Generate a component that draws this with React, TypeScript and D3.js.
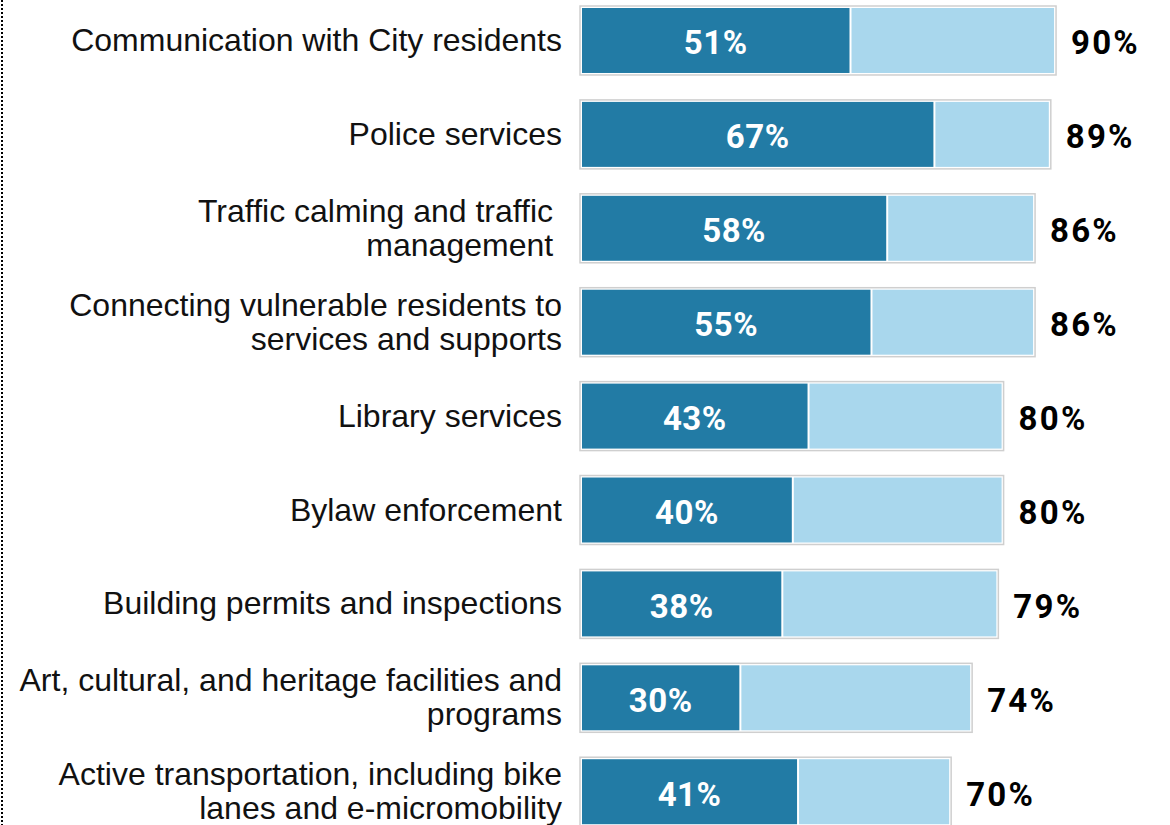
import React from "react";
import * as d3 from "d3";

const categories: string[][] = [
  ["Communication with City residents"],
  ["Police services"],
  ["Traffic calming and traffic ", "management "],
  ["Connecting vulnerable residents to", "services and supports"],
  ["Library services"],
  ["Bylaw enforcement"],
  ["Building permits and inspections"],
  ["Art, cultural, and heritage facilities and", "programs"],
  ["Active transportation, including bike", "lanes and e-micromobility"],
];
const strongValues = [51, 67, 58, 55, 43, 40, 38, 30, 41];
const totalValues = [90, 89, 86, 86, 80, 80, 79, 74, 70];

const W = 1170;
const H = 825;
const DARK = "#227ba5";
const LIGHT = "#a9d7ed";

export default function App() {
  const x = d3.scaleLinear().domain([0, 100]).range([582, 1106.5]);
  const y = d3
    .scaleBand<number>()
    .domain(d3.range(categories.length))
    .range([8, 824.2])
    .paddingInner(0.308)
    .paddingOuter(0);
  const bh = y.bandwidth();
  const valueFont = "Roboto, 'DejaVu Sans', sans-serif";
  const labelFont = "'Liberation Sans', Arial, sans-serif";
  return (
    <svg
      width={W}
      height={H}
      style={{ position: "absolute", left: 0, top: 0, background: "#fff" }}
    >
      <line x1={2} x2={2} y1={0} y2={H} stroke="#000" strokeWidth={2} strokeDasharray="2,2" />
      {categories.map((lines, i) => {
        const y0 = y(i)!;
        const cy = y0 + bh / 2;
        const s = strongValues[i];
        const t = totalValues[i];
        const lh = 34;
        return (
          <g key={i}>
            <rect
              x={x(0) - 2}
              y={y0 - 2}
              width={x(t) - x(0) + 4}
              height={bh + 4}
              fill="#fff"
              stroke="#cfcfcf"
              strokeWidth={1.5}
            />
            <rect x={x(0)} y={y0} width={x(s) - x(0)} height={bh} fill={DARK} />
            <rect x={x(s) + 2} y={y0} width={x(t) - x(s) - 2} height={bh} fill={LIGHT} />
            <text
              x={(x(0) + x(s)) / 2}
              y={cy}
              dy="0.42em"
              textAnchor="middle"
              fill="#fff"
              fontFamily={valueFont}
              fontWeight={700}
              fontSize={33}
              letterSpacing={0.5}
            >
              {s}%
            </text>
            <text
              x={x(t) + 17}
              y={cy}
              dy="0.42em"
              fill="#000"
              fontFamily={valueFont}
              fontWeight={700}
              fontSize={33}
              letterSpacing={2.2}
            >
              {t}%
            </text>
            {lines.map((ln, j) => (
              <text
                key={j}
                x={562}
                y={cy - 1 + (j - (lines.length - 1) / 2) * lh}
                dy="0.36em"
                textAnchor="end"
                fill="#111"
                fontFamily={labelFont}
                fontSize={32}
                style={{ whiteSpace: "pre" }}
              >
                {ln}
              </text>
            ))}
          </g>
        );
      })}
    </svg>
  );
}
